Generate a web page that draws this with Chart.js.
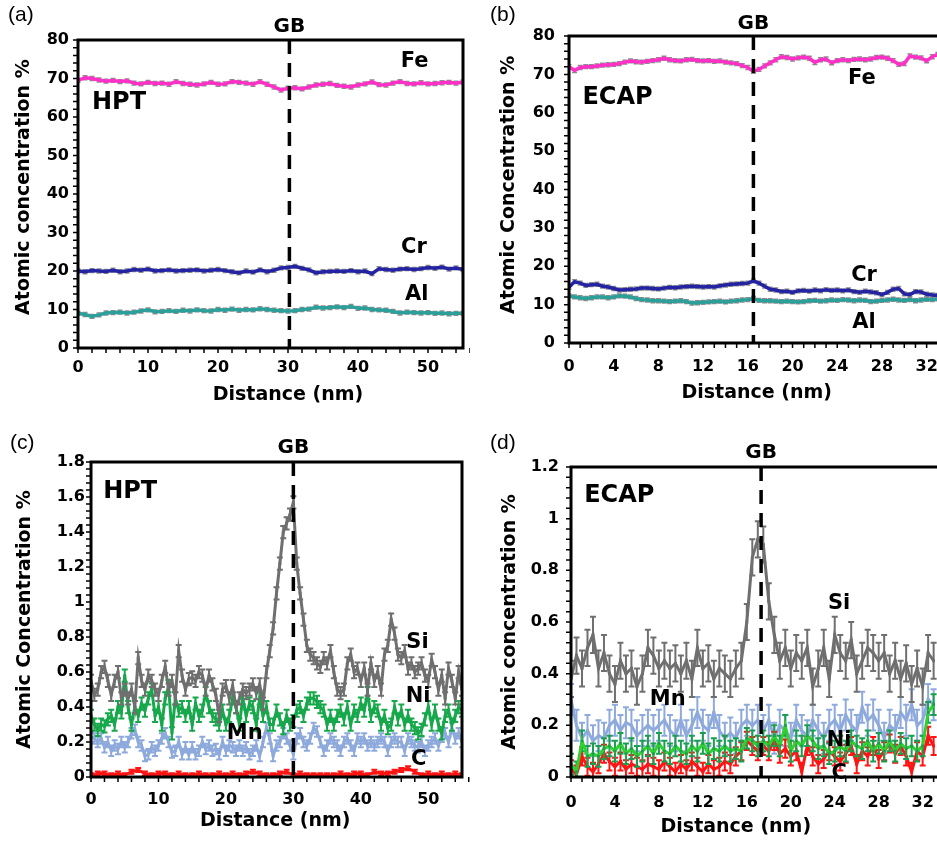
<!DOCTYPE html>
<html><head><meta charset="utf-8">
<script src="https://cdn.jsdelivr.net/npm/chart.js@4/dist/chart.umd.min.js"></script>
<style>
html,body{margin:0;padding:0;background:#fff;overflow:hidden;}
#wrap{position:relative;width:937px;height:841px;overflow:hidden;background:#fff;}
canvas{position:absolute;}
.pl{position:absolute;font-family:"Liberation Sans",Arial,sans-serif;font-size:21px;line-height:22px;color:#000;}
</style></head><body>
<div id="wrap">
<canvas id="ca" width="470" height="420" style="left:0;top:0;width:470px;height:420px"></canvas>
<canvas id="cb" width="482" height="420" style="left:470px;top:0;width:482px;height:420px"></canvas>
<canvas id="cc" width="470" height="421" style="left:0;top:420px;width:470px;height:421px"></canvas>
<canvas id="cd" width="480" height="421" style="left:470px;top:420px;width:480px;height:421px"></canvas>
<div class="pl" style="left:8px;top:3px">(a)</div>
<div class="pl" style="left:490px;top:3px">(b)</div>
<div class="pl" style="left:10px;top:431px">(c)</div>
<div class="pl" style="left:490px;top:431px">(d)</div>
</div>
<script>
// ---------- data ----------
// (a) HPT, major elements, 1 nm sampling
const stepA = 1;
const feA = [69.5,70.2,70,69.6,69.3,69.5,69.2,69.4,68.8,68.6,69,68.7,68.8,68.5,69.2,68.7,68.5,68.3,68.6,69,68.5,68.6,69.2,69,68.8,68.5,69.2,68.5,67.8,67,67.5,67.6,67.3,67.8,68.3,68.5,68.7,68.2,68,67.8,68.3,68.6,69.1,68.4,68.3,68.8,69.2,68.7,68.6,68.9,68.6,68.7,68.9,69,68.8,69.1];
const crA = [20,19.8,20.1,20,19.9,20.2,19.8,20,20.4,20.2,20.5,20,20.1,20.3,20,20.1,20.2,20.3,20,20.2,20.4,20.1,19.8,19.5,20,19.7,20.3,19.8,20.2,20.8,20.9,21.2,20.7,20.3,19.5,19.8,19.9,20,19.9,20.1,19.8,20,19.3,20.6,20.4,20.2,20.5,20.6,20.4,20.6,20.9,20.7,21,20.5,20.8,20.4];
const alA = [9,8.7,8.2,8.6,9.1,9.2,9.3,9.1,9.3,9.6,9.9,9.4,9.5,9.7,9.5,9.8,9.6,9.9,9.7,9.6,10,9.8,10.1,9.8,10,9.9,10.2,10,9.8,9.7,9.6,9.7,10,10.1,10.6,10.4,10.5,10.7,10.5,10.8,10.3,10.4,10,9.9,9.8,9.5,9.1,9.3,9.2,9.1,9.2,9,9.1,8.9,9,9];
// (b) ECAP, major elements, 0.5 nm sampling
const stepB = 0.5;
const feB = [72,71,71.8,72,72,72.2,72.4,72.5,72.6,72.8,73.2,73.5,73.3,73.2,73.4,73.6,73.8,74.2,73.8,73.6,73.5,73.8,73.9,73.6,73.5,73.6,73.4,73.5,73.2,73,72.8,72.3,71.8,70.8,71.3,72.2,73,73.8,74.6,74.4,74,74.3,74.5,74.2,73.1,73.8,74,73,73.6,73.8,73.6,73.9,74,73.8,74,74.4,74.5,74.2,73.6,72.6,72.8,74.8,74.5,74.3,73.5,74.6,75.2];
const crB = [14.5,16,15.6,15,15.2,15.3,14.8,14.6,14.2,13.8,13.9,14,14.1,14.3,14.3,14.2,14.1,14.3,14.5,14.4,14.6,14.7,14.8,14.7,14.6,14.7,14.6,14.9,15.1,15.3,15.4,15.5,15.6,16.2,15.6,14.8,14,13.8,13.4,13.5,13.2,13.6,13.7,13.5,13.8,13.6,13.9,13.7,13.8,13.6,13.8,13.4,13.2,13.5,13.3,13.1,12.6,13.2,14,14.2,12.8,12.6,13.4,13.3,12.7,12.5,12.4];
const alB = [12.3,12,11.8,11.6,11.8,12,12,11.8,12,12.3,12.2,12,11.6,11.3,11.2,11,11,10.9,10.8,10.9,11,10.8,10.4,10.5,10.6,10.7,10.8,10.9,10.7,10.9,11,11.2,11.3,11.6,11.1,11,11,10.9,10.8,10.9,10.8,10.7,10.8,11,11.1,10.9,11,11.2,11.1,11.3,11.2,11,11.2,11.1,10.8,10.9,11.1,11.2,11.4,11.2,11.1,11.3,11,11.2,11.4,11.3,11.5];
// (c) HPT, minor elements, 0.5 nm sampling (C at 1 nm)
const stepC = 0.5, stepCc = 1;
const siC = [0.55,0.47,0.5,0.6,0.63,0.55,0.47,0.55,0.6,0.45,0.5,0.45,0.5,0.4,0.68,0.55,0.5,0.58,0.55,0.5,0.47,0.55,0.63,0.5,0.55,0.45,0.72,0.58,0.5,0.56,0.57,0.55,0.6,0.58,0.5,0.58,0.53,0.47,0.35,0.5,0.52,0.45,0.52,0.4,0.45,0.5,0.48,0.5,0.53,0.48,0.53,0.42,0.6,0.72,0.85,1.05,1.22,1.4,1.45,1.5,1.57,1.22,1.05,0.9,0.75,0.7,0.68,0.65,0.63,0.68,0.65,0.72,0.6,0.5,0.48,0.5,0.65,0.7,0.6,0.62,0.55,0.62,0.5,0.65,0.55,0.6,0.5,0.7,0.75,0.9,0.82,0.7,0.68,0.72,0.62,0.65,0.6,0.62,0.65,0.58,0.55,0.67,0.6,0.5,0.58,0.45,0.62,0.55,0.45,0.6,0.5];
const niC = [0.35,0.3,0.27,0.3,0.29,0.33,0.35,0.3,0.4,0.37,0.58,0.4,0.3,0.4,0.35,0.42,0.38,0.45,0.5,0.35,0.4,0.3,0.45,0.52,0.25,0.45,0.38,0.4,0.35,0.4,0.3,0.42,0.35,0.38,0.48,0.4,0.35,0.33,0.3,0.38,0.3,0.35,0.45,0.4,0.3,0.45,0.35,0.42,0.4,0.3,0.45,0.35,0.4,0.3,0.3,0.38,0.33,0.28,0.35,0.3,0.32,0.38,0.4,0.35,0.42,0.45,0.45,0.43,0.4,0.38,0.3,0.35,0.3,0.35,0.38,0.33,0.4,0.3,0.38,0.35,0.42,0.38,0.48,0.35,0.4,0.38,0.3,0.35,0.28,0.3,0.4,0.33,0.38,0.3,0.35,0.3,0.28,0.25,0.27,0.33,0.4,0.3,0.38,0.3,0.25,0.35,0.38,0.3,0.35,0.4,0.38];
const mnC = [0.23,0.22,0.2,0.22,0.17,0.2,0.15,0.18,0.16,0.2,0.17,0.2,0.25,0.27,0.2,0.18,0.12,0.13,0.17,0.15,0.18,0.22,0.25,0.2,0.14,0.15,0.2,0.13,0.17,0.13,0.17,0.13,0.15,0.2,0.16,0.18,0.15,0.16,0.13,0.2,0.15,0.18,0.17,0.15,0.18,0.15,0.17,0.13,0.15,0.18,0.12,0.2,0.28,0.22,0.12,0.18,0.2,0.25,0.22,0.18,0.13,0.22,0.25,0.2,0.18,0.22,0.28,0.26,0.2,0.15,0.18,0.22,0.2,0.18,0.15,0.2,0.22,0.18,0.15,0.22,0.2,0.22,0.18,0.2,0.18,0.2,0.22,0.2,0.15,0.2,0.22,0.2,0.2,0.15,0.22,0.2,0.18,0.17,0.2,0.15,0.18,0.2,0.22,0.18,0.23,0.25,0.2,0.28,0.22,0.25,0.2];
const cC = [0.01,0.02,0.02,0.01,0.02,0.01,0.03,0.04,0.02,0.01,0.02,0.02,0.01,0.02,0.01,0.01,0.02,0.01,0.01,0.02,0.01,0.02,0.01,0.02,0.03,0.02,0.01,0.01,0.02,0.03,0.01,0.02,0.01,0.01,0.01,0.01,0.01,0.02,0.01,0.02,0.02,0.01,0.03,0.02,0.02,0.03,0.04,0.05,0.03,0.01,0.02,0.01,0.02,0.01,0.02,0.01];
// (d) ECAP, minor elements, 0.5 nm sampling
const stepD = 0.5;
const siD = [0.38,0.47,0.42,0.5,0.55,0.42,0.48,0.4,0.36,0.45,0.4,0.42,0.35,0.4,0.5,0.47,0.42,0.45,0.42,0.44,0.4,0.45,0.38,0.5,0.42,0.44,0.38,0.42,0.4,0.38,0.42,0.45,0.6,0.85,0.92,0.9,0.68,0.55,0.45,0.5,0.42,0.48,0.45,0.5,0.35,0.42,0.5,0.38,0.55,0.48,0.45,0.53,0.4,0.45,0.5,0.48,0.45,0.48,0.4,0.45,0.38,0.44,0.36,0.42,0.35,0.48,0.45];
const mnD = [0.3,0.2,0.15,0.18,0.14,0.16,0.15,0.2,0.22,0.18,0.21,0.2,0.16,0.18,0.2,0.18,0.2,0.22,0.18,0.16,0.22,0.16,0.2,0.25,0.2,0.18,0.25,0.18,0.15,0.17,0.15,0.2,0.22,0.2,0.22,0.18,0.22,0.15,0.2,0.18,0.15,0.22,0.18,0.16,0.22,0.18,0.15,0.2,0.22,0.18,0.24,0.2,0.18,0.27,0.22,0.24,0.2,0.15,0.2,0.18,0.25,0.22,0.28,0.2,0.22,0.3,0.28];
const niD = [0.05,0.02,0.14,0.08,0.09,0.08,0.11,0.12,0.1,0.13,0.09,0.11,0.08,0.1,0.12,0.09,0.13,0.1,0.09,0.12,0.1,0.09,0.12,0.1,0.13,0.09,0.11,0.1,0.12,0.1,0.11,0.1,0.15,0.14,0.12,0.14,0.12,0.16,0.12,0.2,0.1,0.14,0.12,0.16,0.14,0.11,0.12,0.09,0.1,0.12,0.1,0.14,0.12,0.11,0.14,0.1,0.13,0.1,0.14,0.1,0.13,0.11,0.12,0.1,0.12,0.25,0.28];
const cD = [0.03,0.01,0.08,0.04,0.02,0.05,0.09,0.06,0.04,0.06,0.03,0.05,0.04,0.03,0.05,0.04,0.03,0.06,0.04,0.02,0.05,0.03,0.06,0.04,0.02,0.05,0.03,0.04,0.06,0.05,0.08,0.1,0.14,0.12,0.1,0.12,0.1,0.14,0.09,0.11,0.08,0.1,0.02,0.12,0.08,0.05,0.07,0.1,0.08,0.06,0.09,0.12,0.05,0.1,0.08,0.12,0.07,0.1,0.13,0.09,0.12,0.08,0.02,0.1,0.08,0.16,0.12];
// grain boundary positions (nm)
const gbA = 30.2, gbB = 16.5, gbC = 30, gbD = 17.3;

// ---------- helpers ----------
function pts(vals, step){ return vals.map((v,i)=>({x:i*step, y:v})); }
const FONT = '"DejaVu Sans", Verdana, sans-serif';

const figPlugin = {
  id:'fig',
  beforeDatasetDraw(chart, args){
    const ds = chart.data.datasets[args.index];
    if(!ds.errBar) return;
    const ctx = chart.ctx, ys = chart.scales.y, a = chart.chartArea;
    ctx.save();
    ctx.beginPath(); ctx.rect(a.left, a.top, a.right-a.left, a.bottom-a.top); ctx.clip();
    ctx.strokeStyle = ds.errColor || ds.borderColor;
    ctx.lineWidth = ds.errWidth || 1.5;
    const cw = ds.errCap || 3;
    ctx.beginPath();
    args.meta.data.forEach((p,i)=>{
      const v = ds.data[i].y;
      const t = ys.getPixelForValue(v + ds.errBar), b = ys.getPixelForValue(v - ds.errBar);
      ctx.moveTo(p.x, t); ctx.lineTo(p.x, b);
      ctx.moveTo(p.x-cw, t); ctx.lineTo(p.x+cw, t);
      ctx.moveTo(p.x-cw, b); ctx.lineTo(p.x+cw, b);
    });
    ctx.stroke();
    ctx.restore();
  },
  afterDraw(chart, args, o){
    const ctx = chart.ctx, a = chart.chartArea, xs = chart.scales.x, ys = chart.scales.y;
    ctx.save();
    // ticks
    ctx.strokeStyle = '#000'; ctx.lineWidth = 1.5;
    ctx.beginPath();
    let n = Math.round((ys.max-ys.min)/o.minorY);
    for(let k=0;k<=n;k++){ const p = ys.getPixelForValue(ys.min + k*o.minorY); ctx.moveTo(a.left-5,p); ctx.lineTo(a.left,p); }
    n = Math.round((xs.max-xs.min)/o.minorX);
    for(let k=0;k<=n;k++){ const p = xs.getPixelForValue(xs.min + k*o.minorX); ctx.moveTo(p,a.bottom); ctx.lineTo(p,a.bottom+5); }
    ctx.stroke();
    // frame
    ctx.lineWidth = 3;
    ctx.strokeRect(a.left, a.top, a.right-a.left, a.bottom-a.top);
    // GB line
    const gx = xs.getPixelForValue(o.gb);
    ctx.lineWidth = 3.5; ctx.setLineDash([14,9]);
    ctx.beginPath(); ctx.moveTo(gx, a.top); ctx.lineTo(gx, a.bottom); ctx.stroke();
    ctx.setLineDash([]);
    ctx.fillStyle = '#000';
    ctx.font = 'bold 20px ' + FONT; ctx.textAlign = 'center'; ctx.textBaseline = 'middle';
    ctx.fillText('GB', gx, a.top - o.gbOff);
    // labels
    o.labels.forEach(l=>{
      ctx.font = 'bold ' + l.size + 'px ' + FONT;
      ctx.textAlign = l.align || 'center';
      ctx.fillText(l.t, xs.getPixelForValue(l.x), ys.getPixelForValue(l.y));
    });
    // axis titles
    ctx.font = 'bold 19px ' + FONT; ctx.textAlign = 'center';
    ctx.fillText('Distance (nm)', xs.getPixelForValue(o.xTitle.x), a.bottom + o.xTitle.dy);
    ctx.translate(o.yTitle.px, ys.getPixelForValue(o.yTitle.y));
    ctx.rotate(-Math.PI/2);
    ctx.fillText(o.yTitle.text, 0, 0);
    ctx.restore();
  }
};

function makeChart(id, c){
  const tickFont = {family: FONT, weight:'bold', size: c.tickSize};
  return new Chart(document.getElementById(id), {
    type:'line',
    data:{datasets: c.datasets},
    options:{
      responsive:false, animation:false, devicePixelRatio:1,
      layout:{padding:{left:0, top:c.top, right:c.right, bottom:0}},
      plugins:{legend:{display:false}, tooltip:{enabled:false}, fig:c.fig},
      elements:{line:{tension:0}},
      scales:{
        x:{type:'linear', min:0, max:c.xmax,
           grid:{display:false, drawTicks:false}, border:{display:false},
           ticks:{stepSize:c.xstep, includeBounds:false, padding:c.xpad, font:tickFont, color:'#000', maxRotation:0, autoSkip:false},
           afterFit:s=>{s.height = c.xh;}},
        y:{type:'linear', min:0, max:c.ymax,
           grid:{display:false, drawTicks:false}, border:{display:false},
           ticks:{stepSize:c.ystep, includeBounds:false, padding:c.ypad, font:tickFont, color:'#000', autoSkip:false,
                  callback:v=>String(+v.toFixed(1))},
           afterFit:s=>{s.width = c.yw;}}
      }
    },
    plugins:[figPlugin]
  });
}

function major(label, vals, step, color){
  return {label, data:pts(vals, step), borderColor:color, borderWidth:3.5, pointRadius:0,
          errBar:0.5, errColor:'#8c8c8c', errWidth:1.5, errCap:2.5};
}
function minor(label, vals, step, color, err, errColor, lw){
  return {label, data:pts(vals, step), borderColor:color, borderWidth:lw||3,
          pointStyle:'rect', pointRadius:2, pointBackgroundColor:errColor||color, pointBorderWidth:0,
          errBar:err, errColor:errColor||color, errWidth:2, errCap:3};
}

const FE='#ff2fc8', CR='#2323a3', AL='#2b9f9a', SI='#6f6f6f', NI='#17a84b', MN='#8eaadc', CC='#ff1414';

makeChart('ca', {
  top:40, right:7, yw:78, xh:72, xmax:55, xstep:10, ymax:80, ystep:10, tickSize:16, xpad:10, ypad:9,
  datasets:[major('Fe',feA,stepA,FE), major('Cr',crA,stepA,CR), major('Al',alA,stepA,AL)],
  fig:{gb:gbA, gbOff:13, minorX:2, minorY:2,
       labels:[{t:'Fe',x:48.1,y:74.5,size:21},{t:'Cr',x:48,y:26.2,size:21},{t:'Al',x:48.4,y:13.8,size:21},
               {t:'HPT',x:2,y:63.6,size:24,align:'left'}],
       xTitle:{x:30,dy:47}, yTitle:{text:'Atomic concentration %', px:24, y:41.8}}
});
makeChart('cb', {
  top:36, right:3, yw:99, xh:77, xmax:34, xstep:4, ymax:80, ystep:10, tickSize:16, xpad:14, ypad:14,
  datasets:[major('Fe',feB,stepB,FE), major('Cr',crB,stepB,CR), major('Al',alB,stepB,AL)],
  fig:{gb:gbB, gbOff:12, minorX:1, minorY:2,
       labels:[{t:'Fe',x:26.2,y:69,size:21},{t:'Cr',x:26.4,y:17.5,size:21},{t:'Al',x:26.4,y:5.2,size:21},
               {t:'ECAP',x:1.2,y:63.8,size:24,align:'left'}],
       xTitle:{x:16.8,dy:50}, yTitle:{text:'Atomic Concentration %', px:39, y:41.2}}
});
makeChart('cc', {
  top:42, right:8, yw:91, xh:64, xmax:55, xstep:10, ymax:1.8, ystep:0.2, tickSize:16, xpad:13, ypad:6,
  datasets:[minor('Si',siC,stepC,SI,0.035), minor('Ni',niC,stepC,NI,0.035), minor('Mn',mnC,stepC,MN,0.03),
            minor('C',cC,stepCc,CC,0.012)],
  fig:{gb:gbC, gbOff:14, minorX:2, minorY:0.04,
       labels:[{t:'Si',x:48.4,y:0.77,size:21},{t:'Ni',x:48.5,y:0.46,size:21},{t:'Mn',x:22.8,y:0.25,size:21},
               {t:'C',x:48.6,y:0.1,size:21},{t:'HPT',x:1.8,y:1.63,size:24,align:'left'}],
       xTitle:{x:27.3,dy:44}, yTitle:{text:'Atomic Concentration %', px:25, y:0.9}}
});
makeChart('cd', {
  top:47, right:3, yw:101, xh:64, xmax:34, xstep:4, ymax:1.2, ystep:0.2, tickSize:16, xpad:16, ypad:12,
  datasets:[minor('Si',siD,stepD,SI,0.07), minor('Ni',niD,stepD,'#2fd02f',0.04,'#1a9e50'),
            minor('C',cD,stepD,CC,0.035), minor('Mn',mnD,stepD,MN,0.06)],
  fig:{gb:gbD, gbOff:14, minorX:1, minorY:0.04,
       labels:[{t:'Si',x:24.4,y:0.67,size:21},{t:'Mn',x:8.8,y:0.3,size:21},{t:'Ni',x:24.4,y:0.14,size:21},
               {t:'C',x:24.4,y:0.015,size:21},{t:'ECAP',x:1.2,y:1.09,size:24,align:'left'}],
       xTitle:{x:15,dy:50}, yTitle:{text:'Atomic concentration %', px:40, y:0.6}}
});
</script>
</body></html>
